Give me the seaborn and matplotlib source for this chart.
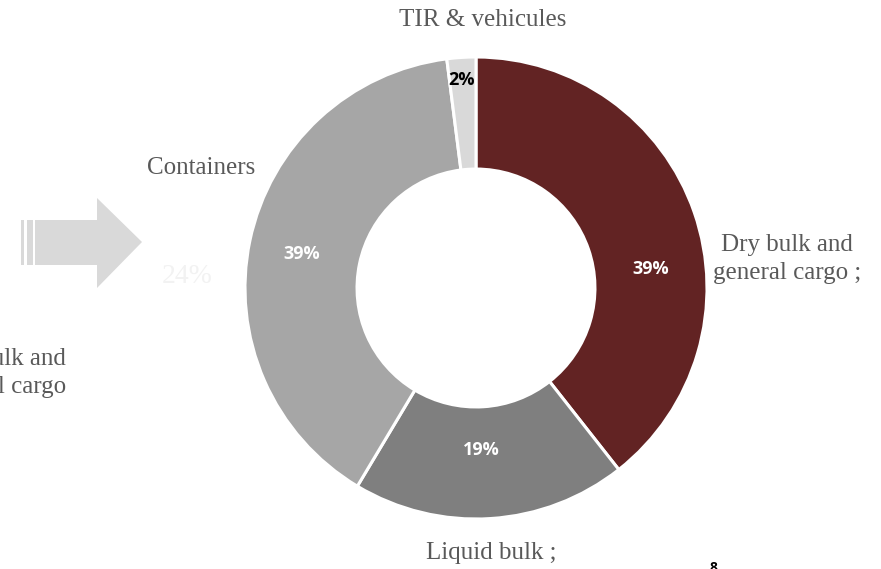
import matplotlib
matplotlib.use('Agg')
import matplotlib.pyplot as plt
import matplotlib.patches as mpatches
import seaborn as sns

sns.set_theme(style='white')
plt.rcParams['font.family'] = ['Liberation Serif', 'DejaVu Serif']

# data
categories = ['Dry bulk and\ngeneral cargo ;', 'Liquid bulk ;', 'Containers', 'TIR & vehicules']
shares = [39, 19, 39, 2]
colors = ['#622323', '#7f7f7f', '#a6a6a6', '#d9d9d9']
pct_colors = ['white', 'white', 'white', 'black']

W, H = 881, 569
fig = plt.figure(figsize=(W / 100, H / 100), dpi=100)
ax = fig.add_axes([0, 0, 1, 1])

cx, cy, r = 476, H - 288, 231
width = 0.485 * r

wedges, _ = ax.pie(
    shares, colors=colors, startangle=90, counterclock=False,
    center=(cx, cy), radius=r, frame=True,
    wedgeprops=dict(width=width, edgecolor='white', linewidth=2.2),
)
ax.set_xlim(0, W)
ax.set_ylim(0, H)
ax.set_aspect('equal')
ax.axis('off')

# percentage labels inside the ring
total = sum(shares)
pct_pos = [(651, 269), (481, 450), (302, 254), (462, 80)]
for s, c, (px, py) in zip(shares, pct_colors, pct_pos):
    ax.text(px, H - py, f'{round(100 * s / total)}%', color=c, fontsize=13,
            fontweight='bold', family=['Open Sans', 'DejaVu Sans'],
            ha='center', va='center')

# category labels
lab_pos = [(787, 259), (491, 553), (201, 168), (483, 20)]
for name, (px, py) in zip(categories, lab_pos):
    ax.text(px, H - py, name, color='#595959', fontsize=18,
            ha='center', va='center', linespacing=1.32)

# leftover from the previous slide: arrow, faded value and cut-off label
grey = '#d9d9d9'
ax.add_patch(mpatches.Polygon(
    [(35, H - 220), (97, H - 220), (97, H - 198), (142, H - 242),
     (97, H - 288), (97, H - 265), (35, H - 265)],
    closed=True, color=grey, lw=0))
ax.add_patch(mpatches.Rectangle((21, H - 265), 3, 45, color=grey, lw=0))
ax.add_patch(mpatches.Rectangle((27, H - 265), 6, 45, color=grey, lw=0))
ax.text(187, H - 276, '24%', color='#f2f2f2', fontsize=20, ha='center', va='center')
ax.text(66, H - 373, 'Dry bulk and\ngeneral cargo', color='#595959', fontsize=18,
        ha='right', va='center', multialignment='right', linespacing=1.32)

# page number
ax.text(713, H - 561, '8', color='black', fontsize=10, fontweight='bold',
        family=['Open Sans', 'DejaVu Sans'], ha='center', va='top')

fig.savefig('out.png', dpi=100)
